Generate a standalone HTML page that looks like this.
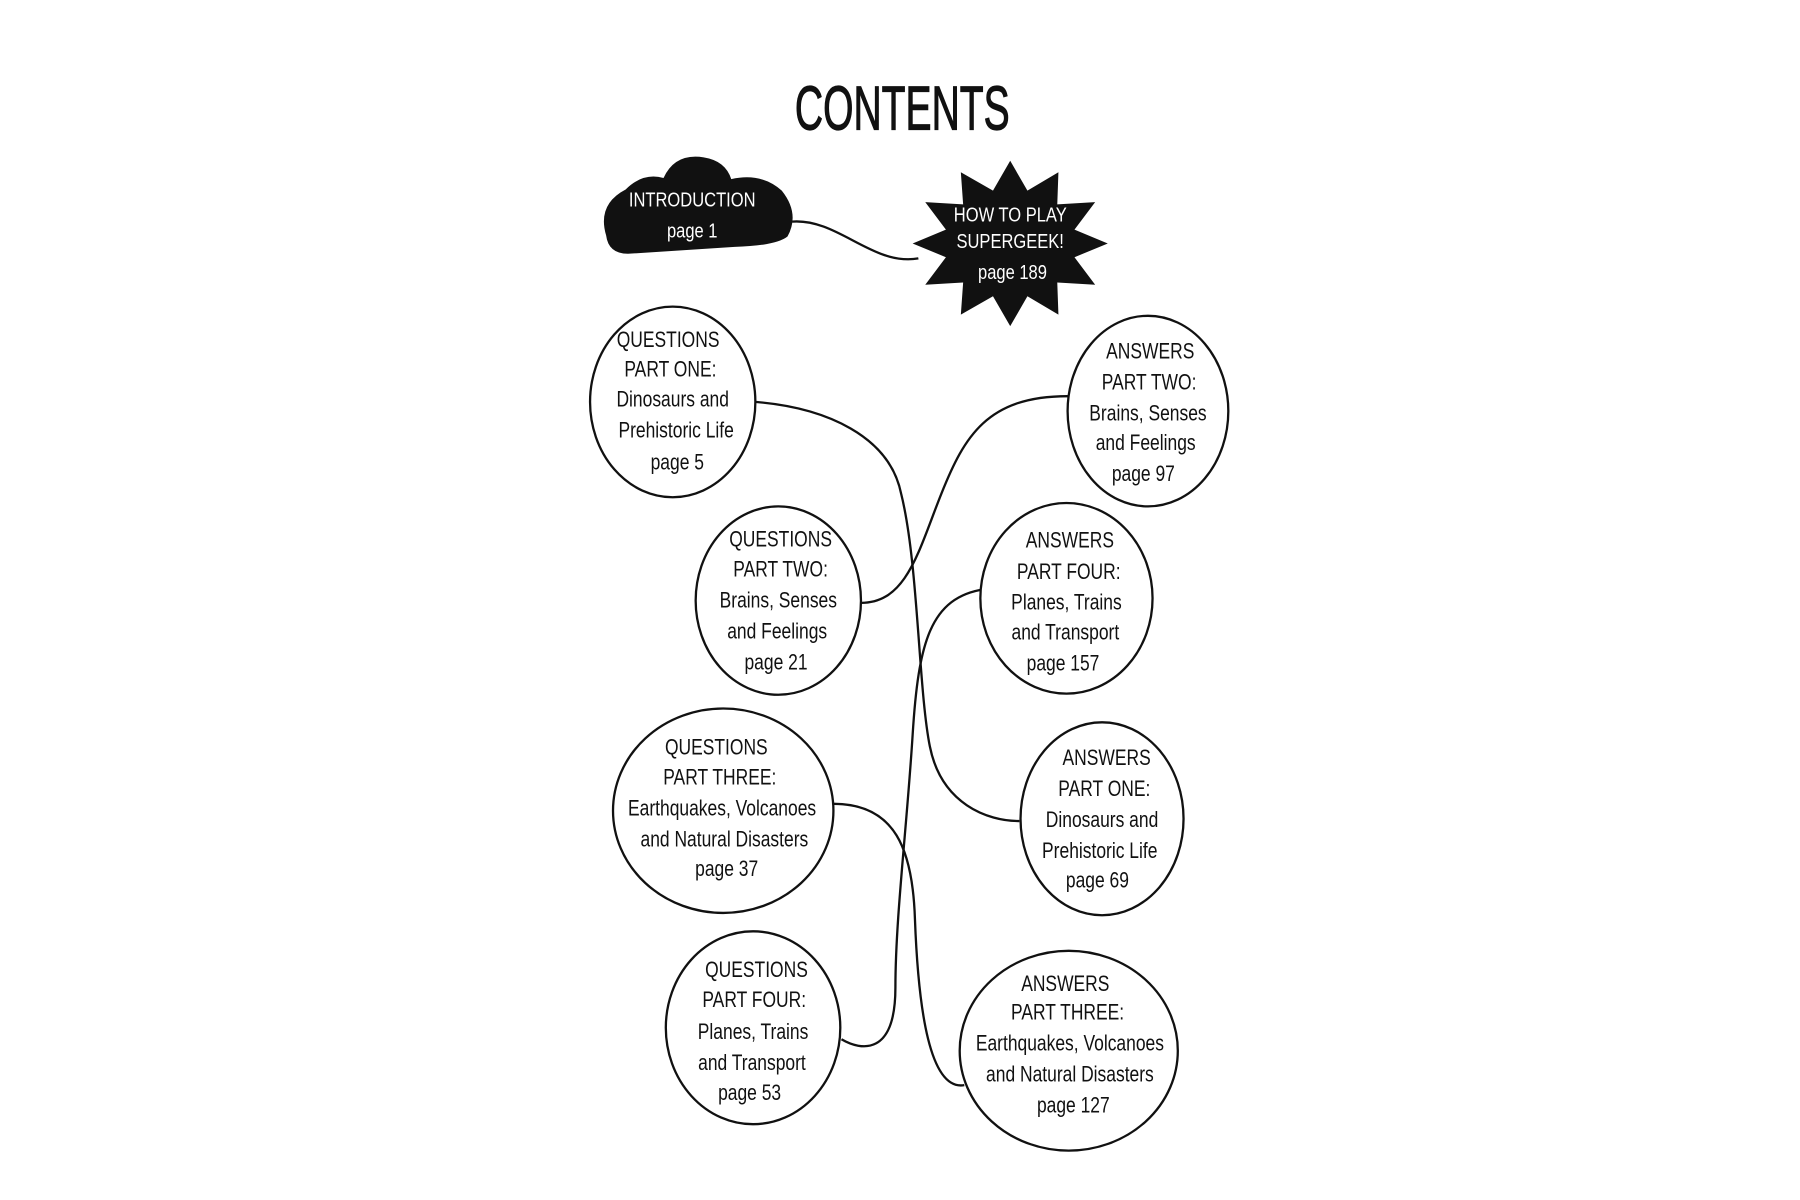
<!DOCTYPE html>
<html><head><meta charset="utf-8"><style>
html,body{margin:0;padding:0;background:#fff;width:1800px;height:1200px;overflow:hidden}
svg{display:block}
text{font-family:"Liberation Sans",sans-serif;text-anchor:middle;transform-box:fill-box;transform-origin:center;transform:scaleX(0.8)}
</style></head><body>
<svg width="1800" height="1200" viewBox="0 0 1568 1045" preserveAspectRatio="none">
<rect width="1568" height="1045" fill="#fff"/>
<text x="786" y="113" font-size="54" fill="#111" stroke="#111" stroke-width="1" style="transform:scaleX(0.63)">CONTENTS</text>
<path d="M528,205 Q520,178 545,165 Q560,150 578,155 Q588,133 613,137 Q632,140 637,156 Q663,150 681,166 Q697,186 686,206 Q676,214 640,215 L547,221 Q530,221 528,205 Z" fill="#111"/>
<text x="603" y="180" font-size="18" fill="#fff">INTRODUCTION</text>
<text x="603" y="207" font-size="18" fill="#fff">page 1</text>
<polygon fill="#111" points="965,212 936,224 954,248 921,246 922,274 895,258 880,284 865,258 837,274 839,246 806,248 824,224 795,212 824,200 806,176 839,178 837,150 865,166 880,140 895,166 922,150 921,178 954,176 936,200"/>
<text x="880" y="193" font-size="18" fill="#fff">HOW TO PLAY</text>
<text x="880" y="216" font-size="18" fill="#fff">SUPERGEEK!</text>
<text x="882" y="243" font-size="18" fill="#fff">page 189</text>
<g fill="none" stroke="#111" stroke-width="2">
<path d="M690,193 C730,190 760,232 800,225"/>
<path d="M658,350 C720,355 775,380 785,430 C800,490 800,600 810,650 C820,700 860,715 888,715"/>
<path d="M750,525 C790,525 800,480 820,430 C840,380 860,345 930,345"/>
<path d="M858,513 C810,520 800,560 795,640 C790,720 780,800 780,860 C780,920 750,915 733,905"/>
<path d="M726,700 C780,700 795,740 797,800 C800,880 810,950 840,945"/>
<ellipse cx="586" cy="350" rx="72" ry="83" fill="#fff"/>
<ellipse cx="1000" cy="358" rx="70" ry="83" fill="#fff"/>
<ellipse cx="678" cy="523" rx="72" ry="82" fill="#fff"/>
<ellipse cx="929" cy="521" rx="75" ry="83" fill="#fff"/>
<ellipse cx="630" cy="706" rx="96" ry="89" fill="#fff"/>
<ellipse cx="960" cy="713" rx="71" ry="84" fill="#fff"/>
<ellipse cx="656" cy="895" rx="76" ry="84" fill="#fff"/>
<ellipse cx="931" cy="915" rx="95" ry="87" fill="#fff"/>
</g>
<g font-size="19" fill="#111">
<text x="582" y="302">QUESTIONS</text><text x="584" y="328">PART ONE:</text><text x="586" y="354">Dinosaurs and</text><text x="589" y="381">Prehistoric Life</text><text x="590" y="409">page 5</text>
<text x="1002" y="312">ANSWERS</text><text x="1001" y="339">PART TWO:</text><text x="1000" y="366">Brains, Senses</text><text x="998" y="392">and Feelings</text><text x="996" y="419">page 97</text>
<text x="680" y="476">QUESTIONS</text><text x="680" y="502">PART TWO:</text><text x="678" y="529">Brains, Senses</text><text x="677" y="556">and Feelings</text><text x="676" y="583">page 21</text>
<text x="932" y="477">ANSWERS</text><text x="931" y="504">PART FOUR:</text><text x="929" y="531">Planes, Trains</text><text x="928" y="557">and Transport</text><text x="926" y="584">page 157</text>
<text x="624" y="657">QUESTIONS</text><text x="627" y="683">PART THREE:</text><text x="629" y="710">Earthquakes, Volcanoes</text><text x="631" y="737">and Natural Disasters</text><text x="633" y="763">page 37</text>
<text x="964" y="666">ANSWERS</text><text x="962" y="693">PART ONE:</text><text x="960" y="720">Dinosaurs and</text><text x="958" y="747">Prehistoric Life</text><text x="956" y="773">page 69</text>
<text x="659" y="851">QUESTIONS</text><text x="657" y="877">PART FOUR:</text><text x="656" y="905">Planes, Trains</text><text x="655" y="932">and Transport</text><text x="653" y="958">page 53</text>
<text x="928" y="863">ANSWERS</text><text x="930" y="888">PART THREE:</text><text x="932" y="915">Earthquakes, Volcanoes</text><text x="932" y="942">and Natural Disasters</text><text x="935" y="969">page 127</text>
</g>
</svg>
</body></html>
